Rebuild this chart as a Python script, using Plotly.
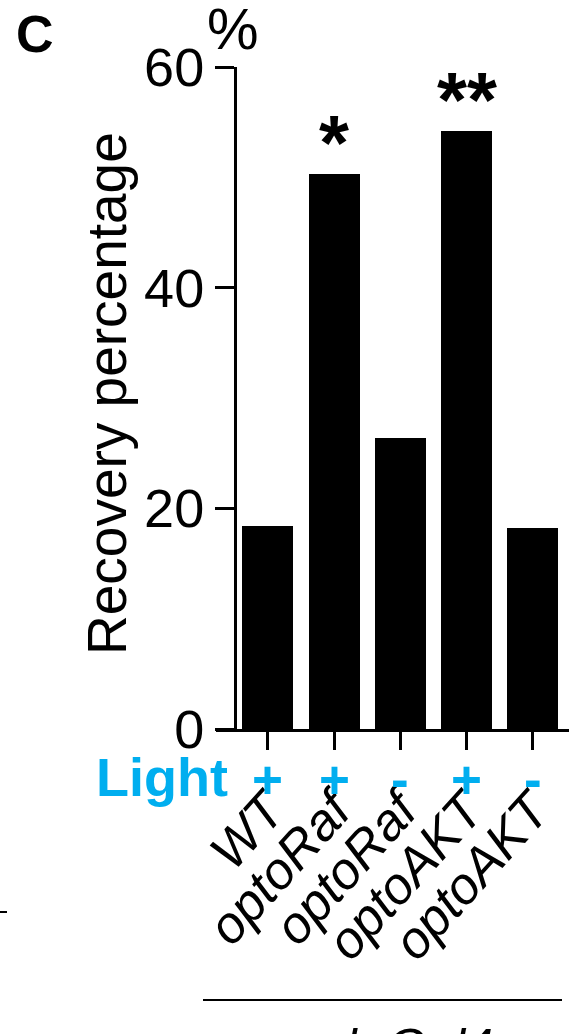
import plotly.graph_objects as go

categories = ["WT", "optoRaf", "optoRaf", "optoAKT", "optoAKT"]
recovery = [18.4, 50.3, 26.4, 54.2, 18.2]
light = ["+", "+", "-", "+", "-"]
significance = ["", "*", "", "**", ""]
y_ticks = [0, 20, 40, 60]

FONT = "Arial, Liberation Sans, sans-serif"
BLUE = "#00AEEF"
W, H = 569, 1034
L, R, T, B = 216, 0, 67, 305
PW, PH = W - L - R, H - T - B

def px_x(X):
    return (X - L) / PW

def px_y(Y):
    return (H - B - Y) / PH

xs = list(range(len(categories)))

fig = go.Figure()
fig.add_trace(go.Bar(x=xs, y=recovery, width=0.77, marker=dict(color="black", line=dict(width=0)),
                     showlegend=False))

fig.update_layout(
    width=W, height=H,
    margin=dict(l=L, r=R, t=T, b=B, autoexpand=False),
    plot_bgcolor="white", paper_bgcolor="white",
    font=dict(family=FONT, color="black", size=53),
    bargap=0,
)
fig.update_xaxes(
    range=[-0.785, 4.547], tickvals=xs, ticktext=categories,
    showline=True, linecolor="black", linewidth=3,
    ticks="outside", ticklen=18, tickwidth=3, tickcolor="black",
    tickangle=-48, ticklabelstandoff=9,
    tickfont=dict(family=FONT, size=52, style="italic"),
    showgrid=False, zeroline=False, fixedrange=True,
)
fig.update_yaxes(
    range=[0, 60], tickvals=y_ticks,
    anchor="free", position=px_x(235),
    showline=True, linecolor="black", linewidth=3,
    ticks="outside", ticklen=19, tickwidth=3, tickcolor="black",
    ticklabelstandoff=0,
    tickfont=dict(family=FONT, size=54),
    showgrid=False, zeroline=False, fixedrange=True,
)

ann = []
# y-axis title
ann.append(dict(text="Recovery percentage", x=px_x(107), y=px_y(394), xref="paper", yref="paper",
                textangle=-90, showarrow=False, xanchor="center", yanchor="middle",
                font=dict(size=55)))
# percent sign
ann.append(dict(text="%", x=px_x(233), y=px_y(29), xref="paper", yref="paper",
                showarrow=False, xanchor="center", yanchor="middle", font=dict(size=58)))
# panel letter
ann.append(dict(text="<b>C</b>", x=px_x(14), y=px_y(3), xref="paper", yref="paper",
                showarrow=False, xanchor="left", yanchor="top", font=dict(size=52)))
# Light row
ann.append(dict(text="<b>Light</b>", x=px_x(230), y=px_y(777), xref="paper", yref="paper",
                showarrow=False, xanchor="right", yanchor="middle", font=dict(size=54, color=BLUE)))
for xi, s in zip(xs, light):
    ann.append(dict(text="<b>%s</b>" % s, x=xi, y=px_y(779), xref="x", yref="paper",
                    showarrow=False, xanchor="center", yanchor="middle", font=dict(size=53, color=BLUE)))
# significance
for xi, s, v in zip(xs, significance, recovery):
    if s:
        ann.append(dict(text="<b>%s</b>" % s, x=xi, y=v, xref="x", yref="y",
                        showarrow=False, xanchor="center", yanchor="bottom", yshift=-14,
                        font=dict(size=77)))
# genotype label
ann.append(dict(text="<i>ppk-Gal4></i>", x=px_x(405), y=px_y(1017), xref="paper", yref="paper",
                showarrow=False, xanchor="center", yanchor="top", font=dict(size=50)))
fig.update_layout(annotations=ann)

shapes = [
    dict(type="line", xref="paper", yref="paper", x0=px_x(203), x1=px_x(562),
         y0=px_y(1000), y1=px_y(1000), line=dict(color="black", width=2)),
    dict(type="line", xref="paper", yref="paper", x0=px_x(0), x1=px_x(7),
         y0=px_y(912), y1=px_y(912), line=dict(color="black", width=2)),
]
fig.update_layout(shapes=shapes)

fig.write_html("out.html", config={"displayModeBar": False},
               post_script="document.body.style.margin='0';document.body.style.overflow='hidden';")
